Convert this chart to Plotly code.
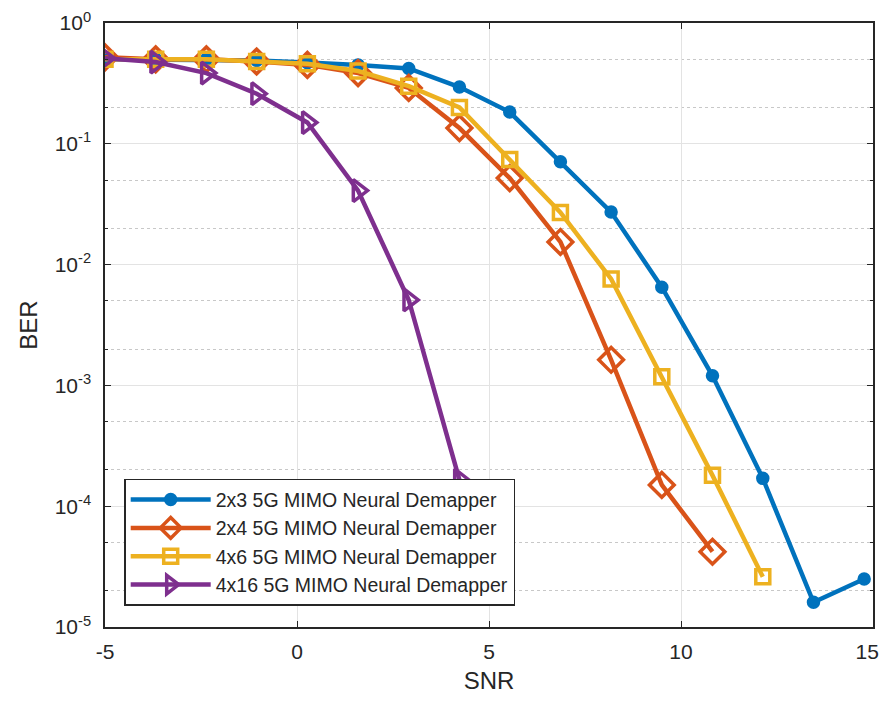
import plotly.graph_objects as go

snr = [-5.0, -3.68, -2.36, -1.05, 0.27, 1.59, 2.91, 4.23, 5.54, 6.86, 8.18, 9.5, 10.82, 12.13, 13.45, 14.77]

ber_2x3 = [0.50, 0.50, 0.50, 0.49, 0.47, 0.45, 0.42, 0.295, 0.183, 0.071, 0.0272, 0.0065, 0.0012, 0.00017, 1.6e-5, 2.5e-5]
ber_2x4 = [0.52, 0.50, 0.50, 0.48, 0.45, 0.385, 0.29, 0.135, 0.052, 0.0154, 0.00163, 0.00015, 4.2e-5]
ber_4x6 = [0.50, 0.50, 0.50, 0.48, 0.46, 0.40, 0.30, 0.20, 0.074, 0.027, 0.0076, 0.00118, 0.00018, 2.6e-5]
ber_4x16 = [0.51, 0.475, 0.385, 0.26, 0.15, 0.041, 0.0051, 0.000165]

names = ["2x3 5G MIMO Neural Demapper", "2x4 5G MIMO Neural Demapper",
         "4x6 5G MIMO Neural Demapper", "4x16 5G MIMO Neural Demapper"]
colors = ["#0072BD", "#D95319", "#EDB120", "#7E2F8E"]
symbols = ["circle", "diamond-open", "square-open", "triangle-right-open"]
sizes = [10, 19, 14, 19]

ytick_vals = [1, 0.1, 0.01, 0.001, 1e-4, 1e-5]
ytick_text = ["10<sup>0</sup>", "10<sup>-1</sup>", "10<sup>-2</sup>", "10<sup>-3</sup>",
              "10<sup>-4</sup>", "10<sup>-5</sup>"]
xtick_vals = [-5, 0, 5, 10, 15]
xtick_text = ["-5", "0", "5", "10", "15\u00a0\u00a0"]

fig = go.Figure()
for name, ys, c, s, sz in zip(names, [ber_2x3, ber_2x4, ber_4x6, ber_4x16], colors, symbols, sizes):
    fig.add_trace(go.Scatter(
        x=snr[:len(ys)], y=ys, name=name, mode="lines+markers",
        line=dict(color=c, width=4.5),
        marker=dict(symbol=s, size=sz, color=c, line=dict(color=c, width=3.5)),
    ))

axis_font = dict(family="Liberation Sans, Arial, sans-serif", size=21, color="#262626")
fig.update_layout(
    width=874, height=686,
    margin=dict(l=97, r=9, t=15, b=67, autoexpand=False),
    paper_bgcolor="white", plot_bgcolor="white",
    font=dict(family="Liberation Sans, Arial, sans-serif", color="#262626"),
    showlegend=True,
    legend=dict(x=0.025, y=0.035, xanchor="left", yanchor="bottom",
                bgcolor="white", bordercolor="#262626", borderwidth=1.5,
                font=dict(size=19.5, color="#262626"), tracegroupgap=0,
                itemwidth=80),
    xaxis=dict(range=[-5, 15], tickvals=xtick_vals, ticktext=xtick_text,
               ticks="inside", ticklen=6, automargin=False,
               ticklabeloverflow="allow", ticklabelstandoff=5,
               tickcolor="#262626", showline=True, linecolor="#262626", linewidth=1.5,
               mirror="ticks", showgrid=True, gridcolor="#e3e3e3", gridwidth=1,
               zeroline=False, tickfont=axis_font,
               title=dict(text="SNR", font=dict(size=24, color="#262626"), standoff=20)),
    yaxis=dict(type="log", range=[-5, 0], tickvals=ytick_vals, ticktext=ytick_text,
               ticks="inside", ticklen=6, tickcolor="#262626", automargin=False,
               ticklabeloverflow="allow", ticklabelstandoff=8,
               showline=True, linecolor="#262626", linewidth=1.5, mirror="ticks",
               showgrid=True, gridcolor="#e3e3e3", gridwidth=1, zeroline=False,
               tickfont=axis_font,
               minor=dict(ticks="inside", ticklen=3, tickcolor="#262626",
                          showgrid=True, gridcolor="#c8c8c8", griddash="dot", gridwidth=1),
               title=dict(text="BER", font=dict(size=24, color="#262626"), standoff=10)),
)

fig.write_html("out.html")
